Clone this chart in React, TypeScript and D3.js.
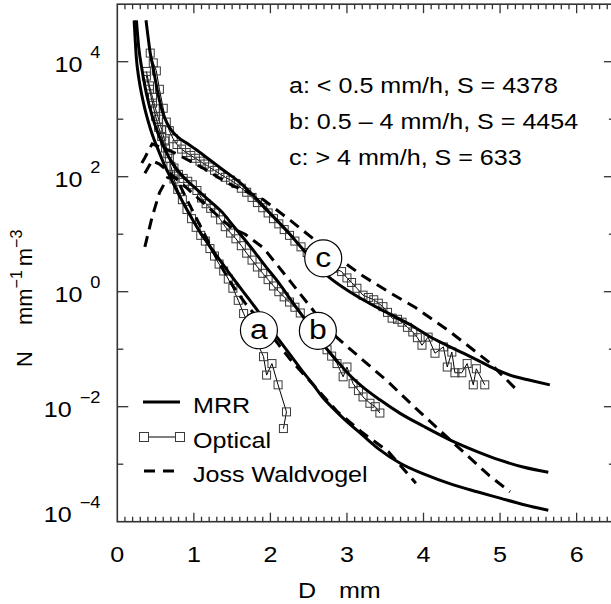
import { useEffect, useRef } from "react";
import * as d3 from "d3";

// [D (mm), log10 N]
const mrrA = [[0.22,4.72],[0.25,4.05],[0.28,3.72],[0.32,3.42],[0.36,3.18],[0.40,2.98],[0.46,2.72],[0.54,2.45],[0.61,2.22],[0.69,2.00],[0.78,1.75],[0.88,1.50],[0.99,1.24],[1.10,1.00],[1.22,0.77],[1.34,0.55],[1.47,0.31],[1.60,0.08],[1.72,-0.13],[1.85,-0.36],[1.97,-0.58],[2.09,-0.80],[2.25,-1.08],[2.40,-1.35],[2.55,-1.60],[2.69,-1.85],[2.82,-2.03],[2.95,-2.20],[3.20,-2.49],[3.43,-2.75],[3.69,-2.98],[4.00,-3.17],[4.39,-3.36],[4.70,-3.48],[5.00,-3.59],[5.30,-3.70],[5.63,-3.80]];
const mrrB = [[0.25,4.72],[0.28,4.25],[0.32,3.88],[0.36,3.58],[0.40,3.33],[0.45,3.08],[0.50,2.87],[0.56,2.66],[0.63,2.45],[0.72,2.24],[0.82,2.06],[0.92,1.92],[1.02,1.80],[1.12,1.68],[1.24,1.54],[1.37,1.38],[1.50,1.17],[1.65,0.93],[1.80,0.68],[1.95,0.42],[2.10,0.17],[2.25,-0.11],[2.39,-0.37],[2.55,-0.66],[2.74,-1.00],[2.90,-1.25],[3.05,-1.47],[3.20,-1.65],[3.43,-1.88],[3.70,-2.12],[4.00,-2.34],[4.35,-2.58],[4.70,-2.78],[5.00,-2.93],[5.30,-3.05],[5.63,-3.14]];
const mrrC = [[0.375,4.72],[0.40,4.45],[0.43,4.15],[0.47,3.88],[0.52,3.52],[0.58,3.17],[0.65,2.93],[0.71,2.80],[0.80,2.68],[0.91,2.58],[1.05,2.45],[1.21,2.29],[1.40,2.10],[1.60,1.90],[1.80,1.64],[2.00,1.36],[2.20,1.08],[2.47,0.67],[2.75,0.27],[3.00,0.03],[3.21,-0.14],[3.43,-0.30],[3.65,-0.45],[3.90,-0.63],[4.08,-0.78],[4.30,-0.93],[4.52,-1.07],[4.75,-1.22],[4.96,-1.36],[5.20,-1.48],[5.39,-1.54],[5.65,-1.62]];

const optA = [[0.38,3.83],[0.42,3.58],[0.46,3.38],[0.50,3.18],[0.54,3.00],[0.58,2.82],[0.62,2.62],[0.66,2.40],[0.70,2.18],[0.74,1.96],[0.79,1.78],[0.85,1.60],[0.91,1.43],[0.97,1.27],[1.03,1.12],[1.09,0.98],[1.15,0.88],[1.21,0.75],[1.27,0.62],[1.33,0.48],[1.39,0.36],[1.45,0.22],[1.51,0.06],[1.58,-0.15],[1.65,-0.38],[1.78,-0.75],[1.91,-1.13],[1.95,-1.45],[2.02,-1.25],[2.10,-1.62],[2.21,-2.09],[2.17,-2.38]];
const optB = [[0.38,3.75],[0.42,3.52],[0.46,3.28],[0.50,3.05],[0.54,2.86],[0.58,2.70],[0.63,2.50],[0.68,2.32],[0.74,2.15],[0.80,2.04],[0.86,1.97],[0.92,1.92],[0.98,1.86],[1.04,1.76],[1.10,1.63],[1.16,1.53],[1.22,1.45],[1.28,1.37],[1.35,1.25],[1.41,1.13],[1.48,1.02],[1.55,0.92],[1.62,0.80],[1.69,0.67],[1.76,0.55],[1.83,0.43],[1.90,0.32],[1.97,0.21],[2.04,0.10],[2.11,0.00],[2.18,-0.09],[2.25,-0.18],[2.32,-0.27],[2.39,-0.37],[2.50,-0.55],[2.62,-0.76],[2.74,-1.01],[2.80,-1.12],[2.87,-1.25],[2.95,-1.48],[3.00,-1.31],[3.08,-1.60],[3.15,-1.72],[3.21,-1.83],[3.30,-1.94],[3.37,-2.00],[3.43,-2.11]];
const optC = [[0.43,4.15],[0.47,3.98],[0.51,3.84],[0.55,3.52],[0.60,3.19],[0.64,2.95],[0.68,2.80],[0.73,2.66],[0.78,2.56],[0.84,2.48],[0.90,2.42],[0.96,2.37],[1.02,2.32],[1.08,2.27],[1.14,2.22],[1.20,2.17],[1.27,2.11],[1.34,2.05],[1.41,1.99],[1.48,1.94],[1.55,1.88],[1.62,1.80],[1.69,1.73],[1.76,1.64],[1.83,1.55],[1.90,1.46],[1.97,1.37],[2.04,1.27],[2.11,1.18],[2.18,1.08],[2.25,0.98],[2.32,0.88],[2.40,0.78],[2.48,0.68],[2.60,0.55],[2.72,0.47],[2.83,0.41],[2.93,0.35],[3.00,0.24],[3.06,0.16],[3.13,0.06],[3.21,-0.06],[3.28,-0.10],[3.35,-0.14],[3.41,-0.20],[3.47,-0.26],[3.53,-0.36],[3.59,-0.46],[3.66,-0.48],[3.72,-0.53],[3.79,-0.62],[3.86,-0.70],[3.92,-0.80],[3.98,-0.93],[4.06,-0.79],[4.15,-1.07],[4.26,-0.96],[4.31,-1.31],[4.37,-1.05],[4.41,-1.41],[4.50,-1.41],[4.57,-1.25],[4.65,-1.62],[4.69,-1.34],[4.80,-1.62]];

const jwA = [[0.36,0.78],[0.455,1.30],[0.55,1.72],[0.655,1.98],[0.77,1.98],[0.91,1.60],[1.12,1.05],[1.33,0.50],[1.50,0.12],[1.67,-0.20],[1.91,-0.58],[2.26,-1.18],[2.58,-1.65],[2.87,-2.08],[3.20,-2.45],[3.54,-2.78],[3.90,-3.33]];
const jwB = [[0.36,2.06],[0.455,2.28],[0.55,2.22],[0.655,2.10],[0.77,1.96],[0.91,1.80],[1.12,1.55],[1.33,1.30],[1.50,1.10],[1.67,1.00],[1.91,0.76],[2.26,0.18],[2.58,-0.36],[2.87,-0.80],[3.20,-1.18],[3.54,-1.57],[3.90,-2.03],[4.35,-2.58],[4.86,-3.20],[5.13,-3.48]];
const jwC = [[0.32,2.24],[0.36,2.33],[0.455,2.57],[0.55,2.52],[0.655,2.47],[0.77,2.40],[0.91,2.30],[1.12,2.15],[1.33,1.98],[1.50,1.85],[1.67,1.75],[1.91,1.60],[2.26,1.24],[2.58,0.90],[2.87,0.60],[3.20,0.28],[3.54,0.00],[3.90,-0.28],[4.35,-0.70],[4.86,-1.23],[5.22,-1.71]];

// circled class labels: [letter, D, log10 N]
const classMarks = [["a",1.85,-0.67],["b",2.62,-0.68],["c",2.69,0.58]];
const classText = ["a: < 0.5 mm/h, S = 4378", "b: 0.5 – 4 mm/h, S = 4454", "c: > 4 mm/h, S = 633"];
const yExps = [-4, -2, 0, 2, 4];
const xLabels = [0, 1, 2, 3, 4, 5, 6];
const legendNames = ["MRR", "Optical", "Joss Waldvogel"];

export default function App() {
  const ref = useRef<SVGSVGElement>(null);

  useEffect(() => {
    const svg = d3.select(ref.current);
    svg.selectAll("*").remove();

    const width = 611;
    const height = 604;
    const font = "'Liberation Sans', Arial, Helvetica, sans-serif";
    const sx = 1.14; // glyphs in the figure are stretched horizontally
    const axisCol = "#333";

    svg.attr("width", width).attr("height", height);

    const x = d3.scaleLinear().domain([0, 6.5]).range([117.3, 614.9]);
    const y = d3.scaleLog().domain([1e-4, 1e5]).range([521.7, 4.2]);

    const toPts = (arr: number[][]) => arr.map(([d, l]) => [x(d), y(Math.pow(10, l))] as [number, number]);

    const stretched = (px: number, py: number, anchor: string, size: number) =>
      svg.append("text")
        .attr("transform", `translate(${px},${py}) scale(${sx},1)`)
        .attr("text-anchor", anchor)
        .attr("font-family", font)
        .attr("font-size", size)
        .attr("fill", "#000");

    // clip
    svg.append("defs").append("clipPath").attr("id", "plotclip")
      .append("rect")
      .attr("x", x(0)).attr("y", y(1e5))
      .attr("width", x(6.5) - x(0)).attr("height", y(1e-4) - y(1e5));

    // x ticks (bottom + top)
    const xt = d3.range(1, 65).map(i => i / 10);
    xt.forEach(v => {
      const major = Math.abs(v - Math.round(v)) < 1e-6;
      const len = major ? 9 : 5;
      svg.append("line").attr("x1", x(v)).attr("x2", x(v))
        .attr("y1", y(1e-4)).attr("y2", y(1e-4) - len)
        .attr("stroke", axisCol).attr("stroke-width", 1.3);
      svg.append("line").attr("x1", x(v)).attr("x2", x(v))
        .attr("y1", y(1e5)).attr("y2", y(1e5) + len)
        .attr("stroke", axisCol).attr("stroke-width", 1.3);
    });

    // y ticks (left + right)
    d3.range(-3, 5).forEach(e => {
      const len = e % 2 === 0 ? 11 : 6;
      const yy = y(Math.pow(10, e));
      svg.append("line").attr("x1", x(0)).attr("x2", x(0) + len)
        .attr("y1", yy).attr("y2", yy)
        .attr("stroke", axisCol).attr("stroke-width", 1.3);
      svg.append("line").attr("x1", x(6.5)).attr("x2", x(6.5) - len)
        .attr("y1", yy).attr("y2", yy)
        .attr("stroke", axisCol).attr("stroke-width", 1.3);
    });

    // frame
    svg.append("rect")
      .attr("x", x(0)).attr("y", y(1e5))
      .attr("width", x(6.5) - x(0)).attr("height", y(1e-4) - y(1e5))
      .attr("fill", "none").attr("stroke", axisCol).attr("stroke-width", 1.6);

    // x tick labels
    xLabels.forEach(v => {
      stretched(x(v), 562, "middle", 22).text(String(v));
    });

    // y tick labels
    yExps.forEach(e => {
      const base = y(Math.pow(10, e)) + (e === -4 ? 0 : 10.5);
      const t = stretched(100.5, base, "end", 22);
      t.append("tspan").text("10");
      t.append("tspan").attr("dx", 7).attr("dy", -14).attr("font-size", 16)
        .text(e < 0 ? "\u2212" + Math.abs(e) : String(e));
    });

    // axis titles
    const xt2 = stretched(298, 598, "start", 22);
    xt2.append("tspan").text("D");
    xt2.append("tspan").attr("dx", 20).text("mm");

    const yl = svg.append("text")
      .attr("transform", "translate(32,367) rotate(-90)")
      .attr("font-family", font).attr("font-size", 22).attr("fill", "#000");
    yl.append("tspan").text("N");
    yl.append("tspan").attr("dx", 26).text("mm");
    yl.append("tspan").attr("dy", -10).attr("font-size", 16).text("\u22121");
    yl.append("tspan").attr("dy", 10).attr("dx", 4).text("m");
    yl.append("tspan").attr("dy", -10).attr("font-size", 16).text("\u22123");

    const plot = svg.append("g").attr("clip-path", "url(#plotclip)");

    // optical spectra
    [optA, optB, optC].forEach(s => {
      const pts = toPts(s);
      plot.append("path").attr("d", d3.line()(pts))
        .attr("fill", "none").attr("stroke", "#000").attr("stroke-width", 1);
      plot.selectAll(null).data(pts).join("rect")
        .attr("x", d => d[0] - 4).attr("y", d => d[1] - 4)
        .attr("width", 8).attr("height", 8)
        .attr("fill", "none").attr("stroke", "#3a3a3a").attr("stroke-width", 1);
    });

    // Joss Waldvogel
    [jwA, jwB, jwC].forEach(s => {
      plot.append("path").attr("d", d3.line()(toPts(s)))
        .attr("fill", "none").attr("stroke", "#000").attr("stroke-width", 3)
        .attr("stroke-dasharray", "11,7");
    });

    // MRR
    const smooth = d3.line().curve(d3.curveMonotoneX);
    [mrrA, mrrB, mrrC].forEach(s => {
      plot.append("path").attr("d", smooth(toPts(s)))
        .attr("fill", "none").attr("stroke", "#000").attr("stroke-width", 3);
    });

    // circled labels
    classMarks.forEach(([k, d, l]) => {
      const cx = x(d as number);
      const cy = y(Math.pow(10, l as number));
      svg.append("circle").attr("cx", cx).attr("cy", cy).attr("r", 18.5)
        .attr("fill", "#fff").attr("stroke", "#000").attr("stroke-width", 1.2);
      stretched(cx, cy + 8.5, "middle", 28).text(k as string);
    });

    // class text
    classText.forEach((t, i) => {
      stretched(289, 92.5 + i * 36.2, "start", 22).text(t);
    });

    // legend
    const ly = [402, 437, 471];
    svg.append("line").attr("x1", 143).attr("x2", 180).attr("y1", ly[0]).attr("y2", ly[0])
      .attr("stroke", "#000").attr("stroke-width", 3);
    svg.append("line").attr("x1", 144).attr("x2", 180).attr("y1", ly[1]).attr("y2", ly[1])
      .attr("stroke", "#000").attr("stroke-width", 1);
    [144, 180].forEach(px => {
      svg.append("rect").attr("x", px - 4.5).attr("y", ly[1] - 4.5).attr("width", 9).attr("height", 9)
        .attr("fill", "#fff").attr("stroke", "#3a3a3a").attr("stroke-width", 1);
    });
    svg.append("line").attr("x1", 144).attr("x2", 176).attr("y1", ly[2]).attr("y2", ly[2])
      .attr("stroke", "#000").attr("stroke-width", 3).attr("stroke-dasharray", "11,8");
    legendNames.forEach((n, i) => {
      stretched(193, ly[i] + 11, "start", 22).text(n);
    });
  }, []);

  return (
    <svg ref={ref} style={{ position: "absolute", left: 0, top: 0, display: "block", background: "#fff" }}></svg>
  );
}
